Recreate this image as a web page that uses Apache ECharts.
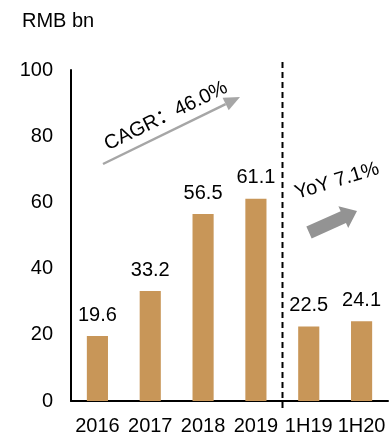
<!DOCTYPE html>
<html>
<head>
<meta charset="utf-8">
<script src="https://cdn.jsdelivr.net/npm/echarts@6/dist/echarts.min.js"></script>
<style>
  html, body { margin: 0; padding: 0; background: #fff; }
  #chart { width: 389px; height: 436px; }
</style>
</head>
<body>
<div id="chart"></div>
<script>
// Revenue, RMB bn
const categories = ['2016', '2017', '2018', '2019', '1H19', '1H20'];
const revenue = [19.6, 33.2, 56.5, 61.1, 22.5, 24.1];
const yTicks = [0, 20, 40, 60, 80, 100];

const FONT = '"Liberation Sans", Arial, "Noto Sans CJK SC", sans-serif';
const BAR_COLOR = '#C89658';

// block arrow polygon from tail centre to tip
function blockArrow(tail, tip, shaftHalf, headHalf, headLen) {
  const dx = tip[0] - tail[0], dy = tip[1] - tail[1];
  const len = Math.hypot(dx, dy);
  const ux = dx / len, uy = dy / len;
  const nx = -uy, ny = ux;
  const bx = tip[0] - ux * headLen, by = tip[1] - uy * headLen;
  return [
    [tail[0] + nx * shaftHalf, tail[1] + ny * shaftHalf],
    [bx + nx * shaftHalf, by + ny * shaftHalf],
    [bx + nx * headHalf, by + ny * headHalf],
    tip,
    [bx - nx * headHalf, by - ny * headHalf],
    [bx - nx * shaftHalf, by - ny * shaftHalf],
    [tail[0] - nx * shaftHalf, tail[1] - ny * shaftHalf]
  ];
}

// thin arrow: shaft line + triangular head
function thinArrowHead(tail, tip, headHalf, headLen) {
  const dx = tip[0] - tail[0], dy = tip[1] - tail[1];
  const len = Math.hypot(dx, dy);
  const ux = dx / len, uy = dy / len;
  const nx = -uy, ny = ux;
  const bx = tip[0] - ux * headLen, by = tip[1] - uy * headLen;
  return {
    base: [bx, by],
    head: [[bx + nx * headHalf, by + ny * headHalf], tip, [bx - nx * headHalf, by - ny * headHalf]]
  };
}

const chart = echarts.init(document.getElementById('chart'), null, { renderer: 'canvas' });

const cagrTail = [103, 164], cagrTip = [240, 97];
const cagr = thinArrowHead(cagrTail, cagrTip, 7, 16);

chart.setOption({
  animation: false,
  textStyle: { fontFamily: FONT },
  grid: { left: 71, right: 1, top: 70, bottom: 34, containLabel: false },
  xAxis: {
    type: 'category',
    data: categories,
    boundaryGap: true,
    axisLine: { show: true, lineStyle: { color: '#000', width: 2 } },
    axisTick: { show: false },
    axisLabel: { interval: 0, margin: 15, color: '#000', fontSize: 20, fontFamily: FONT }
  },
  yAxis: {
    type: 'value',
    min: yTicks[0],
    max: yTicks[yTicks.length - 1],
    interval: yTicks[1] - yTicks[0],
    axisLine: { show: true, lineStyle: { color: '#000', width: 2 } },
    axisTick: { show: false },
    splitLine: { show: false },
    axisLabel: { margin: 18, color: '#000', fontSize: 20, fontFamily: FONT }
  },
  series: [{
    type: 'bar',
    data: revenue,
    barWidth: '40%',
    itemStyle: { color: BAR_COLOR },
    label: {
      show: true,
      position: 'top',
      distance: 11,
      color: '#000',
      fontSize: 20,
      fontFamily: FONT,
      formatter: p => p.value.toFixed(1)
    }
  }],
  graphic: [
    {
      type: 'text',
      x: 22, y: 21,
      style: { text: 'RMB bn', fill: '#000', font: '20px ' + FONT, verticalAlign: 'middle' }
    },
    // period divider
    {
      type: 'line',
      shape: { x1: 282.5, y1: 62, x2: 282.5, y2: 408 },
      style: { stroke: '#000', lineWidth: 2, lineDash: [6, 4] }
    },
    // CAGR arrow
    {
      type: 'line',
      shape: { x1: cagrTail[0], y1: cagrTail[1], x2: cagr.base[0], y2: cagr.base[1] },
      style: { stroke: '#A6A6A6', lineWidth: 2.5 }
    },
    {
      type: 'polygon',
      shape: { points: cagr.head },
      style: { fill: '#A6A6A6' }
    },
    {
      type: 'text',
      x: 166, y: 116,
      rotation: 26 * Math.PI / 180,
      style: { text: 'CAGR：46.0%', fill: '#000', font: '20px ' + FONT, align: 'center', verticalAlign: 'middle' }
    },
    // YoY arrow
    {
      type: 'polygon',
      shape: { points: blockArrow([309, 232.5], [357, 211], 6.5, 12, 15) },
      style: { fill: '#939393' }
    },
    {
      type: 'text',
      x: 337, y: 181,
      rotation: 17 * Math.PI / 180,
      style: { text: 'YoY 7.1%', fill: '#000', font: '20px ' + FONT, align: 'center', verticalAlign: 'middle' }
    }
  ]
});
</script>
</body>
</html>
